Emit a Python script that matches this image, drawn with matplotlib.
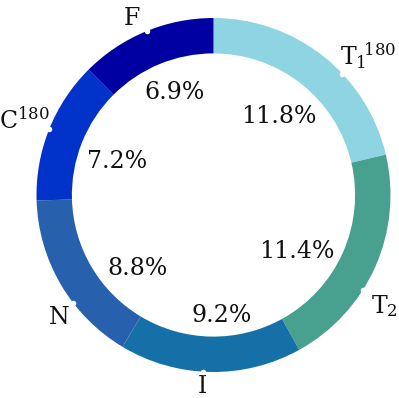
import numpy as np
import matplotlib
matplotlib.use("Agg")
import matplotlib.pyplot as plt

# Share of each class (percent)
labels = [r"$\mathrm{T}_1\!{}^{180}$", r"$\mathrm{T}_2$", r"$\mathrm{I}$",
          r"$\mathrm{N}$", r"$\mathrm{C}^{180}$", r"$\mathrm{F}$"]
values = [11.8, 11.4, 9.2, 8.8, 7.2, 6.9]
colors = ["#8ed4e2", "#48a08f", "#1670a8", "#2761ae", "#0133cb", "#0000a2"]

# Angular nudges (degrees) and radii for the outer names, their anchor dots
# and the inner percentages
dot_nudge = [-8.3, -8.4, -2.5, 7.1, -0.3, -0.3]
name_nudge = [-9.4, -9.1, -2.6, 7.9, 0.0, 2.3]
name_radius = [1.175, 1.153, 1.085, 1.116, 1.151, 1.098]
pct_nudge = [-1.3, -10.1, 4.9, 13.6, 2.4, -1.5]
pct_radius = [0.58, 0.57, 0.68, 0.60, 0.575, 0.62]

plt.rcParams["font.family"] = "DejaVu Serif"
plt.rcParams["mathtext.fontset"] = "dejavuserif"

W, H = 399, 398
fig = plt.figure(figsize=(W / 100, H / 100), dpi=100)
ax = fig.add_axes([0, 0, 1, 1])

wedges, _ = ax.pie(values, colors=colors, startangle=90, counterclock=False,
                   radius=1.0, wedgeprops=dict(width=0.2, linewidth=0))

R = 177.0
cx, cy = 213.5, 195.0
ax.set_xlim(-cx / R, (W - cx) / R)
ax.set_ylim(-(H - cy) / R, cy / R)
ax.set_aspect("equal")
ax.axis("off")

total = sum(values)
start = 90.0
for i, v in enumerate(values):
    span = v / total * 360.0
    mid = start - span / 2
    start -= span

    d = np.deg2rad(mid + dot_nudge[i])
    ax.plot(np.cos(d), np.sin(d), "o", ms=4, mfc="white", mec="none", zorder=5)

    a = np.deg2rad(mid + name_nudge[i])
    ax.text(name_radius[i] * np.cos(a), name_radius[i] * np.sin(a), labels[i],
            ha="center", va="center", fontsize=17, color="#111111")

    b = np.deg2rad(mid + pct_nudge[i])
    ax.text(pct_radius[i] * np.cos(b), pct_radius[i] * np.sin(b),
            f"{v:.1f}%", ha="center", va="center", fontsize=17,
            color="#111111")

fig.savefig("out.png", dpi=100)
